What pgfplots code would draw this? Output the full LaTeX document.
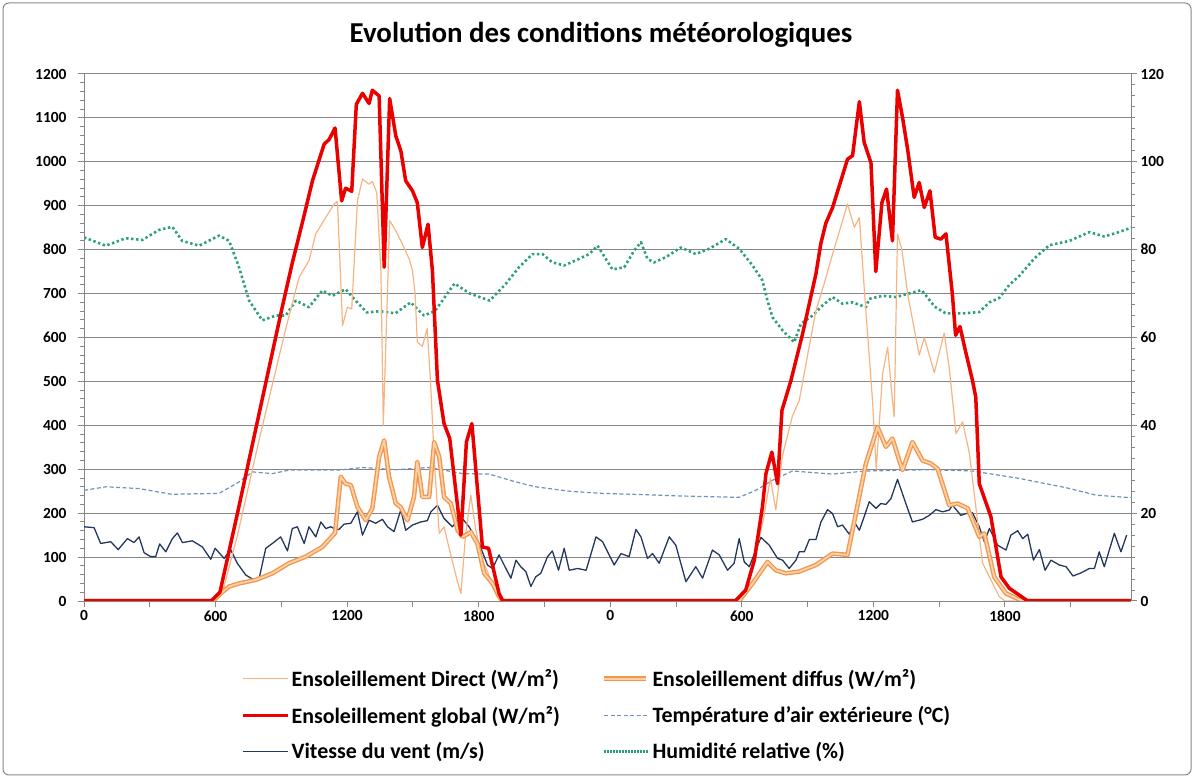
\documentclass[border=0pt]{standalone}
\usepackage{fontspec}
\setmainfont{Carlito}
\usepackage{pgfplots}
\pgfplotsset{compat=1.18}
\usepackage{pgfplotstable}

\definecolor{cDirect}{RGB}{245,180,130}
\definecolor{cDiffOut}{RGB}{242,150,80}
\definecolor{cDiffIn}{RGB}{250,210,165}
\definecolor{cGlobal}{RGB}{235,0,0}
\definecolor{cTemp}{RGB}{110,145,190}
\definecolor{cWind}{RGB}{35,55,95}
\definecolor{cHum}{RGB}{45,160,120}
\definecolor{cGrid}{RGB}{134,134,134}

% Global irradiance (W/m2) vs hour
\pgfplotstableread{
h v
0 0
5.8 0
6.2 20
7.0 200
8.0 430
9.0 660
9.5 770
10.0 870
10.42 957
10.95 1040
11.18 1051
11.45 1077
11.75 911
11.93 940
12.21 933
12.42 1131
12.7 1156
13.0 1133
13.15 1163
13.46 1150
13.69 760
13.94 1144
14.22 1059
14.45 1025
14.67 957
14.98 934
15.2 907
15.43 805
15.69 858
15.89 752
16.12 502
16.42 404
16.68 370
17.19 150
17.44 362
17.69 404
18.17 123
18.45 120
18.93 17
19.1 0
29.7 0
30.18 25
30.57 93
30.94 214
31.1 290
31.37 339
31.63 267
31.83 434
32.24 502
32.77 608
33.38 745
33.6 813
33.83 860
34.14 896
34.82 1006
35.05 1014
35.36 1137
35.58 1044
35.89 998
36.11 750
36.39 907
36.6 938
36.87 820
37.1 1163
37.33 1101
37.56 1029
37.86 919
38.09 953
38.32 896
38.58 934
38.82 828
39.08 824
39.31 836
39.6 700
39.75 605
39.95 625
40.15 580
40.52 502
40.67 464
40.83 267
41.36 192
41.82 55
42.2 29
43.04 0
47.75 0
}\tblGlobal

% Direct irradiance (W/m2)
\pgfplotstableread{
h v
0 0
5.9 0
6.3 17
7.0 150
8.0 370
8.6 495
9.2 620
9.81 737
10.26 775
10.57 836
11.02 873
11.41 904
11.56 910
11.79 627
12.01 669
12.21 665
12.47 911
12.7 961
13.0 949
13.15 955
13.35 930
13.54 752
13.65 400
13.94 866
14.22 843
14.45 820
14.83 779
14.98 752
15.1 700
15.2 590
15.43 580
15.65 620
15.8 502
16.0 300
16.2 154
16.42 169
16.7 110
17.0 50
17.19 17
17.4 150
17.64 241
17.87 161
18.17 93
18.63 40
18.85 10
19.0 0
29.8 0
30.2 20
30.6 100
31.0 190
31.3 280
31.55 207
31.85 330
32.3 420
32.62 457
33.0 560
33.38 661
33.8 730
34.14 790
34.5 850
34.82 904
35.13 851
35.36 873
35.6 700
35.96 457
36.13 300
36.42 517
36.65 578
36.87 457
36.95 420
37.1 836
37.3 800
37.56 700
37.86 620
38.09 560
38.32 600
38.78 520
39.23 610
39.46 530
39.77 381
40.07 408
40.38 336
40.98 86
41.74 10
42.0 0
47.75 0
}\tblDirect

% Diffuse irradiance (W/m2)
\pgfplotstableread{
h v
0 0
5.9 0
6.23 17
6.62 33
7.07 40
7.83 48
8.59 63
9.35 86
10.11 101
10.87 123
11.45 155
11.71 283
11.93 267
12.17 264
12.47 214
12.85 184
13.15 211
13.46 328
13.69 366
13.91 283
14.22 222
14.44 214
14.75 184
15.05 237
15.2 317
15.43 237
15.74 237
15.97 362
16.2 328
16.42 237
16.73 222
17.04 161
17.27 146
17.64 157
17.94 131
18.25 63
18.63 40
18.93 10
19.1 0
29.88 0
30.49 40
31.17 89
31.55 70
32.0 63
32.62 67
33.38 82
34.14 108
34.82 105
35.2 199
35.66 313
36.19 396
36.57 351
36.87 370
37.18 320
37.33 298
37.78 362
38.24 320
38.62 313
38.93 301
39.46 218
39.84 222
40.3 211
40.83 146
41.06 154
41.51 55
42.05 17
42.81 0
47.75 0
}\tblDiffuse

% Outdoor air temperature (C)
\pgfplotstableread{
h v
0 25.2
1.0 26.0
2.5 25.6
4.0 24.3
5.0 24.4
6.16 24.5
7.07 27.1
7.68 29.4
8.59 29.0
9.35 29.8
11.63 29.8
12.7 30.4
14.22 29.9
15.74 30.4
17.27 29.0
18.48 28.9
19.7 27.1
20.6 26.0
22.13 25.0
23.65 24.5
25.0 24.3
27.3 23.9
29.88 23.6
30.64 25.2
31.4 27.5
32.31 29.6
34.14 28.9
35.66 29.6
38.55 29.9
40.52 29.6
42.66 27.9
44.79 25.8
46.15 24.1
47.52 23.6
47.75 23.6
}\tblTemp

% Relative humidity (%)
\pgfplotstableread{
h v
0 82.8
0.99 80.9
1.9 82.6
2.66 82.2
3.42 84.5
4.03 85.2
4.48 82.0
5.25 80.9
6.16 83.2
6.62 82.0
7.07 76.0
7.53 68.4
8.13 63.9
8.75 65.0
9.2 65.0
9.66 68.4
10.26 66.9
10.87 70.7
11.33 69.5
11.93 71.0
12.39 68.4
12.9 65.7
13.5 66.0
14.2 65.5
14.9 68.0
15.5 65.0
16.0 66.0
16.9 72.3
17.6 70.0
18.5 68.4
19.2 72.0
19.84 76.0
20.45 79.0
20.91 79.0
21.36 77.1
21.9 76.4
22.58 77.9
23.04 79.0
23.42 80.9
24.1 75.5
24.64 76.0
25.09 79.8
25.4 81.7
25.7 77.9
26.0 77.1
26.54 78.3
27.22 80.5
27.9 79.0
28.51 80.2
29.27 82.4
29.88 80.2
30.49 76.4
30.94 73.0
31.17 68.4
31.4 64.6
31.86 61.6
32.39 58.9
32.69 63.1
33.23 65.0
33.68 67.3
34.14 69.2
34.59 67.7
35.05 68.0
35.66 66.9
35.81 68.8
36.42 69.5
37.03 69.2
37.6 70.0
38.2 70.8
38.8 67.0
39.3 65.5
40.15 65.5
40.83 65.8
41.29 68.0
41.74 69.0
42.2 72.0
42.65 74.0
43.34 78.0
44.02 81.0
44.94 82.0
45.85 84.0
46.53 83.0
47.2 84.0
47.75 85.0
}\tblHum

% Wind speed (m/s)
\pgfplotstableread{
h v
0 16.9
0.46 16.7
0.76 13.1
1.22 13.5
1.56 11.7
1.98 14.2
2.28 13.3
2.51 14.6
2.74 11.0
3.04 10.1
3.27 10.1
3.45 13.0
3.73 11.2
4.03 14.2
4.26 15.5
4.49 13.3
4.94 13.7
5.4 12.3
5.78 9.5
5.98 12.0
6.39 9.7
6.69 11.7
6.99 8.6
7.38 5.9
7.68 5.0
7.98 5.0
8.29 12.0
8.59 13.1
8.97 14.6
9.28 11.4
9.5 16.5
9.73 16.9
10.04 13.1
10.26 16.9
10.57 14.6
10.8 18.0
11.03 16.5
11.25 16.9
11.48 16.3
11.63 16.3
11.86 17.5
12.17 17.7
12.47 20.3
12.7 15.0
13.0 18.4
13.3 17.7
13.61 18.6
13.84 16.9
14.14 15.8
14.45 20.8
14.67 16.1
14.98 17.3
15.36 18.0
15.66 18.3
15.82 20.3
16.12 21.8
16.42 18.8
16.8 16.9
17.19 19.2
17.56 16.9
18.02 13.1
18.4 8.2
18.63 7.4
18.93 10.5
19.2 7.8
19.47 5.2
19.7 9.3
19.92 7.8
20.15 6.7
20.38 3.3
20.6 5.5
20.83 6.3
21.14 10.1
21.36 11.4
21.64 7.0
21.9 12.0
22.13 7.0
22.51 7.4
22.9 7.0
23.35 14.6
23.65 13.5
24.18 8.2
24.49 10.8
24.86 10.1
25.17 16.3
25.4 14.6
25.7 9.7
25.93 10.8
26.23 8.6
26.69 14.6
26.99 12.7
27.45 4.4
27.9 7.8
28.21 5.2
28.66 11.6
28.97 10.5
29.35 7.0
29.65 8.6
29.88 14.2
30.11 8.9
30.34 7.8
30.87 14.5
31.25 12.7
31.63 9.7
31.86 9.3
32.16 7.4
32.47 9.3
32.62 11.2
32.85 11.2
33.08 14.0
33.38 14.0
33.61 18.0
33.91 20.8
34.14 19.9
34.37 16.9
34.59 17.3
34.9 15.2
35.13 18.0
35.36 16.1
35.58 19.2
35.81 22.6
36.12 21.1
36.34 22.2
36.57 22.0
36.8 23.3
37.1 27.7
37.48 22.2
37.78 18.0
38.24 18.6
38.55 19.5
38.85 20.8
39.16 20.3
39.46 20.7
39.61 21.8
39.99 19.5
40.22 19.9
40.52 20.1
40.83 16.9
41.06 13.5
41.29 16.5
41.67 12.7
42.05 11.6
42.27 15.0
42.58 16.0
42.81 14.2
43.04 15.2
43.3 9.3
43.57 11.7
43.83 7.0
44.1 9.3
44.48 8.2
44.79 7.8
45.1 5.7
45.47 6.4
45.85 7.4
46.08 7.4
46.3 11.2
46.53 7.8
46.99 15.4
47.29 11.2
47.55 15.0
}\tblWind

\pgfplotsset{
  base/.style={
    at={(84bp,177bp)}, anchor=south west, scale only axis,
    width=1047bp, height=527bp, xmin=0, xmax=47.75,
    axis line style={cGrid, line width=1bp},
    tick style={cGrid, line width=1bp},
    major tick length=6bp, minor tick length=4bp,
    tick align=outside,
    ticklabel style={font=\bfseries\fontsize{15.5}{17}\selectfont, text=black},
    /pgf/number format/assume math mode=true,
    /pgf/number format/1000 sep={},
    every axis plot/.append style={line join=round},
  },
}

\begin{document}
\begin{tikzpicture}
\path[use as bounding box] (0bp,0bp) rectangle (1194bp,778bp);
\draw[cGrid, rounded corners=6bp, line width=1bp] (3bp,3bp) rectangle (1191bp,775bp);
\node[font=\bfseries\fontsize{29}{34}\selectfont] at (601bp,743bp) {Evolution des conditions météorologiques};

% Axis 1: left scale, grid, x axis, legend
\begin{axis}[base, ymin=0, ymax=1200,
  axis x line*=bottom, axis y line*=left,
  ytick={0,100,...,1200}, minor y tick num=4,
  yticklabel={\pgfmathprintnumber{\tick}\hspace*{8bp}},
  ymajorgrids, grid style={cGrid, line width=1bp},
  xtick={0,6,...,42}, xticklabels={0,600,1200,1800,0,600,1200,1800},
  extra x ticks={3,9,...,45}, extra x tick labels={},
  legend columns=2,
  legend cell align=left,
  legend style={at={(axis description cs:0.147,-0.122)}, anchor=north west,
    draw=none, fill=none, font=\bfseries\fontsize{22}{24}\selectfont,
    /tikz/every even column/.append style={column sep=40bp},
    row sep=14bp},
  legend image code/.code={\draw[#1] (0bp,0bp) -- (45bp,0bp);},
]
\addlegendimage{cDirect, line width=1.2bp}
\addlegendentry{Ensoleillement Direct (W/m²)}
\addlegendimage{legend image code/.code={\draw[cDiffOut, line width=5bp] (0bp,0bp) -- (42bp,0bp); \draw[cDiffIn, line width=2.4bp] (0bp,0bp) -- (42bp,0bp);}}
\addlegendentry{Ensoleillement diffus (W/m²)}
\addlegendimage{cGlobal, line width=3.5bp}
\addlegendentry{Ensoleillement global (W/m²)}
\addlegendimage{cTemp, line width=1.2bp, dash pattern=on 4bp off 2.5bp}
\addlegendentry{Température d'air extérieure (°C)}
\addlegendimage{cWind, line width=1.3bp}
\addlegendentry{Vitesse du vent (m/s)}
\addlegendimage{cHum, line width=2.5bp, dash pattern=on 1.5bp off 1.5bp}
\addlegendentry{Humidité relative (\%)}
\end{axis}

% Axis 2: right scale
\begin{axis}[base, ymin=0, ymax=120,
  axis x line=none, axis y line*=right,
  ytick={0,20,...,120}, minor y tick num=7,
]
\addplot[cTemp, line width=1.2bp, dash pattern=on 4bp off 2.5bp] table[x=h, y=v] {\tblTemp};
\addplot[cHum, line width=2.6bp, dash pattern=on 2.4bp off 2.6bp] table[x=h, y=v] {\tblHum};
\addplot[cWind, line width=1.3bp] table[x=h, y=v] {\tblWind};
\end{axis}

% Axis 3: irradiance series on the left scale
\begin{axis}[base, ymin=0, ymax=1200, hide axis]
\addplot[cDirect, line width=1.2bp] table[x=h, y=v] {\tblDirect};
\addplot[cDiffOut, line width=4.5bp] table[x=h, y=v] {\tblDiffuse};
\addplot[cDiffIn, line width=1.8bp] table[x=h, y=v] {\tblDiffuse};
\addplot[cGlobal, line width=3.5bp] table[x=h, y=v] {\tblGlobal};
\end{axis}
\end{tikzpicture}
\end{document}
